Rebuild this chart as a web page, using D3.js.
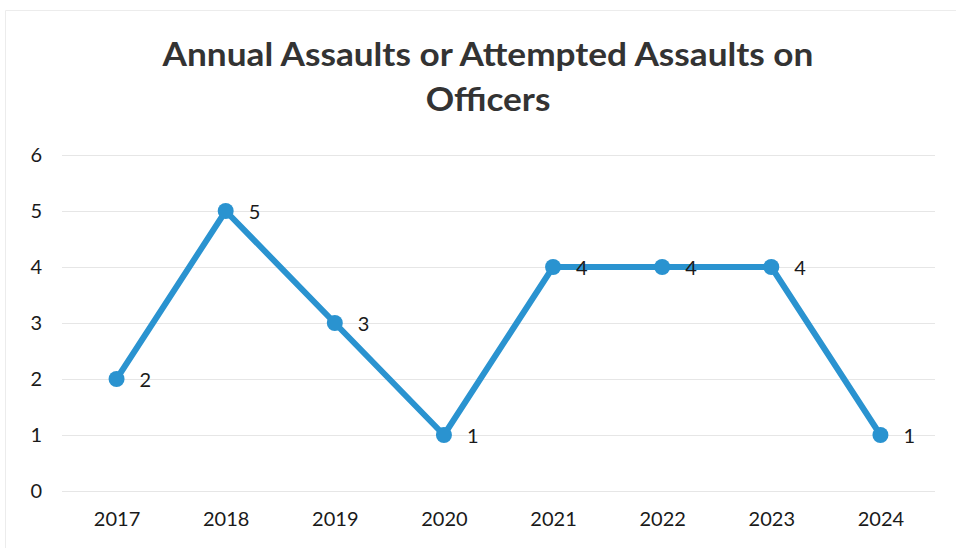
<!DOCTYPE html>
<html>
<head>
<meta charset="utf-8">
<script src="https://cdn.jsdelivr.net/npm/d3@7"></script>
<style>
  html, body { margin: 0; padding: 0; background: #fff; }
  svg { display: block; }
</style>
</head>
<body>
<svg id="chart" width="956" height="548"></svg>
<script>
const years = ["2017", "2018", "2019", "2020", "2021", "2022", "2023", "2024"];
const assaults = [2, 5, 3, 1, 4, 4, 4, 1];
const yTicks = [0, 1, 2, 3, 4, 5, 6];
const titleLines = ["Annual Assaults or Attempted Assaults on", "Officers"];

const W = 956, H = 548;
const margin = { top: 155, right: 21, bottom: 57, left: 62 };
const svg = d3.select("#chart");
const font = "Lato, 'Open Sans', sans-serif";

// faint chart-area frame
svg.append("path")
  .attr("d", `M5.5,${H} V10.5 H${W}`)
  .attr("fill", "none")
  .attr("stroke", "#ececec")
  .attr("stroke-width", 1);

const x = d3.scalePoint()
  .domain(years)
  .range([margin.left, W - margin.right])
  .padding(0.5);

const y = d3.scaleLinear()
  .domain([0, 6])
  .range([H - margin.bottom, margin.top]);

// gridlines
svg.append("g")
  .selectAll("line")
  .data(yTicks)
  .join("line")
  .attr("x1", margin.left)
  .attr("x2", W - margin.right)
  .attr("y1", d => Math.round(y(d)) + 0.5)
  .attr("y2", d => Math.round(y(d)) + 0.5)
  .attr("stroke", "#e6e6e6")
  .attr("stroke-width", 1);

// y axis labels
const yAxis = svg.append("g")
  .attr("transform", `translate(${margin.left},0)`)
  .call(d3.axisLeft(y).tickValues(yTicks).tickSize(0).tickPadding(20).tickFormat(d3.format("d")));
yAxis.select(".domain").remove();
yAxis.selectAll("text")
  .attr("font-family", font)
  .attr("font-size", 20)
  .attr("fill", "#1a1a1a");

// x axis labels
const xAxis = svg.append("g")
  .attr("transform", `translate(0,${H - margin.bottom})`)
  .call(d3.axisBottom(x).tickSize(0).tickPadding(21));
xAxis.select(".domain").remove();
xAxis.selectAll("text")
  .attr("font-family", font)
  .attr("font-size", 20)
  .attr("fill", "#1a1a1a");

// title, slightly widened to a condensed-bold look
svg.append("g")
  .attr("transform", "translate(488,0) scale(1.1,1)")
  .append("text")
  .attr("text-anchor", "middle")
  .attr("font-family", font)
  .attr("font-weight", "bold")
  .attr("font-size", 32)
  .attr("fill", "#333")
  .selectAll("tspan")
  .data(titleLines)
  .join("tspan")
  .attr("x", 0)
  .attr("y", (d, i) => 66 + i * 45)
  .text(d => d);

const blue = "#2a93d0";
const pts = years.map((yr, i) => ({ year: yr, value: assaults[i] }));

// line
svg.append("path")
  .datum(pts)
  .attr("fill", "none")
  .attr("stroke", blue)
  .attr("stroke-width", 6)
  .attr("stroke-linejoin", "round")
  .attr("d", d3.line().x(d => x(d.year)).y(d => y(d.value)));

// markers
svg.append("g")
  .selectAll("circle")
  .data(pts)
  .join("circle")
  .attr("cx", d => x(d.year))
  .attr("cy", d => y(d.value))
  .attr("r", 8)
  .attr("fill", blue);

// value labels
svg.append("g")
  .selectAll("text")
  .data(pts)
  .join("text")
  .attr("x", d => x(d.year) + 23)
  .attr("y", d => y(d.value) + 8)
  .attr("font-family", font)
  .attr("font-size", 20)
  .attr("fill", "#1a1a1a")
  .text(d => d.value);
</script>
</body>
</html>
